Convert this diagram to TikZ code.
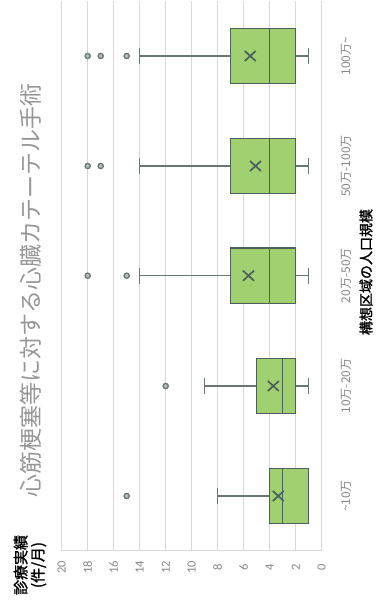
\documentclass[tikz,border=0pt]{standalone}
\usepackage{fontspec}
\setmainfont{Carlito}
\newfontfamily\cjk{Noto Sans CJK JP}
\newfontfamily\cjkb[FakeBold=1.6]{Noto Sans CJK JP}
\definecolor{gridc}{RGB}{215,215,215}
\definecolor{boxfill}{RGB}{160,208,112}
\definecolor{boxline}{RGB}{74,96,92}
\definecolor{whisk}{RGB}{105,118,116}
\definecolor{outfill}{RGB}{185,192,190}
\definecolor{labgray}{RGB}{135,135,135}
\definecolor{titgray}{RGB}{150,150,150}
\tikzset{
  gridline/.style={draw=gridc, line width=1pt},
  bx/.style={draw=boxline, fill=boxfill, line width=1.4pt},
  medline/.style={draw=boxline, line width=1.4pt},
  whline/.style={draw=whisk, line width=1.4pt},
  meanmk/.style={draw=boxline, line width=1.7pt},
  outl/.style={draw=whisk, fill=outfill, line width=1.3pt},
  vallab/.style={text=labgray, font=\fontsize{12.5}{12.5}\selectfont, rotate=90, inner sep=0pt},
  catlab/.style={text=labgray, font=\cjk\fontsize{12}{12}\selectfont, rotate=90, inner sep=0pt},
}
% boxplot: #1 center y, #2 Q1 x, #3 median x, #4 Q3 x, #5 min x, #6 max x, #7 mean x
\newcommand{\myboxplot}[7]{%
  \draw[whline] (#4,#1) -- (#6,#1);
  \draw[whline] (#6,#1-8) -- (#6,#1+8);
  \draw[whline] (#2,#1) -- (#5,#1);
  \draw[whline] (#5,#1-8) -- (#5,#1+8);
  \draw[bx] (#4,#1-27.7) rectangle (#2,#1+27.7);
  \draw[medline] (#3,#1-27.7) -- (#3,#1+27.7);
  \draw[meanmk] (#7-5.5,#1-5) -- (#7+5.5,#1+5) (#7-5.5,#1+5) -- (#7+5.5,#1-5);
}
\begin{document}
\begin{tikzpicture}[x=1pt,y=-1pt]
\useasboundingbox (0,0) rectangle (379,606);
\fill[white] (0,0) rectangle (379,606);
% grid
\foreach \k in {0,...,10} {
  \draw[gridline] ({61.7+26*\k},1) -- ({61.7+26*\k},550.7);
}
\draw[gridline] (61.7,550.7) -- (321.7,550.7);
% value labels
\foreach \v [count=\i from 0] in {20,18,16,14,12,10,8,6,4,2,0} {
  \node[vallab] (v\i) at ({61.7+26*\i},567) {\v};
}
% boxes
\myboxplot{56}{295.7}{269.7}{230.7}{308.7}{139.7}{250.2}
\myboxplot{166}{295.7}{269.7}{230.7}{308.7}{139.7}{255.5}
\myboxplot{275.7}{295.7}{269.7}{230.7}{308.7}{139.7}{248.5}
\myboxplot{386}{295.7}{282.7}{256.7}{308.7}{204.7}{273.3}
\myboxplot{496}{308.7}{282.7}{269.7}{308.7}{217.7}{278.3}
% outliers
\foreach \x/\y in {126.7/56, 100.7/56, 87.7/56, 100.7/166, 87.7/166, 126.7/275.7, 87.7/275.7, 165.7/386, 126.7/496} {
  \draw[outl] (\x,\y) circle (2.6);
}
% category labels
\node[catlab] (c1) at (346,56) {100万\textasciitilde};
\node[catlab] (c2) at (346,166) {50万-100万};
\node[catlab] (c3) at (346,275.7) {20万-50万};
\node[catlab] (c4) at (346,386) {10万-20万};
\node[catlab] (c5) at (346,496) {\textasciitilde10万};
% titles
\node[text=titgray, font=\cjk\fontsize{23}{23}\selectfont, rotate=90, inner sep=0pt] (title) at (31,290.5) {心筋梗塞等に対する心臓カテーテル手術};
\node[text=black, font=\cjkb\fontsize{14}{14}\selectfont, rotate=90, inner sep=0pt] (xtitle) at (366,272) {構想区域の人口規模};
\node[text=black, font=\cjkb\fontsize{15}{17}\selectfont, rotate=90, inner sep=0pt, align=center] (ytitle) at (30,565) {診療実績\\(件/月)};
\end{tikzpicture}
\end{document}
